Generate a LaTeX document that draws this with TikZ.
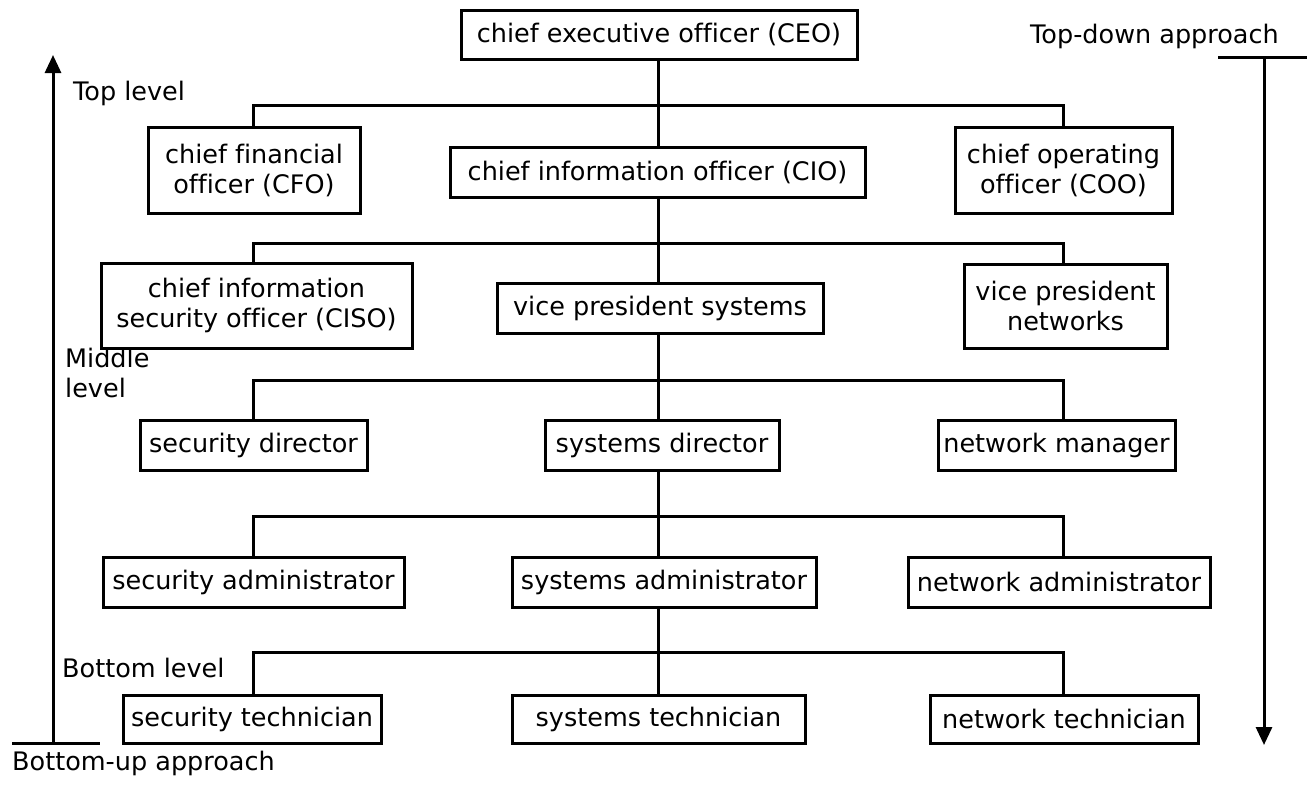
\documentclass[tikz,border=0pt]{standalone}
\usepackage{fontspec}
\setmainfont{DejaVu Sans}[Ligatures={NoCommon}]
\usetikzlibrary{arrows.meta}
\newcommand\chartfont{\fontsize{25.5}{30}\selectfont}
\begin{document}
\begin{tikzpicture}[x=1pt,y=-1pt,
  box/.style={draw, line width=3pt, inner sep=0pt, align=center,
    font=\chartfont, minimum height=50pt},
  tall/.style={box, minimum height=86pt},
  link/.style={line width=3pt},
  approach/.style={line width=3pt, -{Triangle[width=16pt,length=18pt]}},
  lbl/.style={font=\chartfont, inner sep=0pt, anchor=base west, align=left}]
\useasboundingbox (0,0) rectangle (1309,785);

% trunk and branch columns
\coordinate (tr) at (658,0);
\coordinate (lb) at (253,0);
\coordinate (rb) at (1063,0);

% level 1
\node[box, minimum width=396pt, minimum height=49pt] (ceo) at (659,34.5) {chief executive officer (CEO)};
% level 2
\node[tall, minimum width=212pt] (cfo) at (254,170) {chief financial\\officer (CFO)};
\node[box, minimum width=415pt] (cio) at (657.5,172) {chief information officer (CIO)};
\node[tall, minimum width=217pt] (coo) at (1063.5,170) {chief operating\\officer (COO)};
% level 3
\node[tall, minimum width=311pt, minimum height=85pt] (ciso) at (256.5,305.5) {chief information\\security officer (CISO)};
\node[box, minimum width=326pt] (vps) at (660,308) {vice president systems};
\node[tall, minimum width=203pt, minimum height=84pt] (vpn) at (1065.5,306) {vice president\\networks};
% level 4
\node[box, minimum width=227pt] (secdir) at (253.5,445) {security director};
\node[box, minimum width=234pt] (sysdir) at (662,445) {systems director};
\node[box, minimum width=237pt] (netmgr) at (1056.5,445) {network manager};
% level 5
\node[box, minimum width=301pt] (secadm) at (253.5,582) {security administrator};
\node[box, minimum width=304pt] (sysadm) at (664,582) {systems administrator};
\node[box, minimum width=302pt] (netadm) at (1059,582) {network administrator};
% level 6
\node[box, minimum width=258pt, minimum height=48pt] (sectech) at (252,719) {security technician};
\node[box, minimum width=293pt, minimum height=48pt] (systech) at (658.5,719) {systems technician};
\node[box, minimum width=268pt, minimum height=48pt] (nettech) at (1064,719) {network technician};

% connectors: trunk down the middle
\draw[link] (ceo.south -| tr) -- (cio.north -| tr);
\draw[link] (cio.south -| tr) -- (vps.north -| tr);
\draw[link] (vps.south -| tr) -- (sysdir.north -| tr);
\draw[link] (sysdir.south -| tr) -- (sysadm.north -| tr);
\draw[link] (sysadm.south -| tr) -- (systech.north -| tr);
% connectors: side branches
\draw[link] (cfo.north -| lb) |- (rb |- 0,105) -- (coo.north -| rb);
\draw[link] (ciso.north -| lb) |- (rb |- 0,243) -- (vpn.north -| rb);
\draw[link] (secdir.north -| lb) |- (rb |- 0,380) -- (netmgr.north -| rb);
\draw[link] (secadm.north -| lb) |- (rb |- 0,516) -- (netadm.north -| rb);
\draw[link] (sectech.north -| lb) |- (rb |- 0,652) -- (nettech.north -| rb);

% bottom-up arrow
\coordinate (buL) at (12,743);
\coordinate (buR) at (100,743);
\coordinate (buFoot) at (53,743);
\coordinate (buTip) at (53,55);
\draw[link] (buL) -- (buR);
\draw[approach] (buFoot) -- (buTip);
% top-down arrow
\coordinate (tdL) at (1218,57);
\coordinate (tdR) at (1307,57);
\coordinate (tdHead) at (1264,57);
\coordinate (tdTip) at (1264,745);
\draw[link] (tdL) -- (tdR);
\draw[approach] (tdHead) -- (tdTip);

% level and approach labels
\node[lbl] (toplvl) at (73,100) {Top level};
\node[lbl] (midlvl) at (65,397) {Middle\\level};
\node[lbl] (botlvl) at (62,677) {Bottom level};
\node[lbl] (tdlbl) at (1030,43) {Top-down approach};
\node[lbl] (bulbl) at (12,770) {Bottom-up approach};
\end{tikzpicture}
\end{document}
